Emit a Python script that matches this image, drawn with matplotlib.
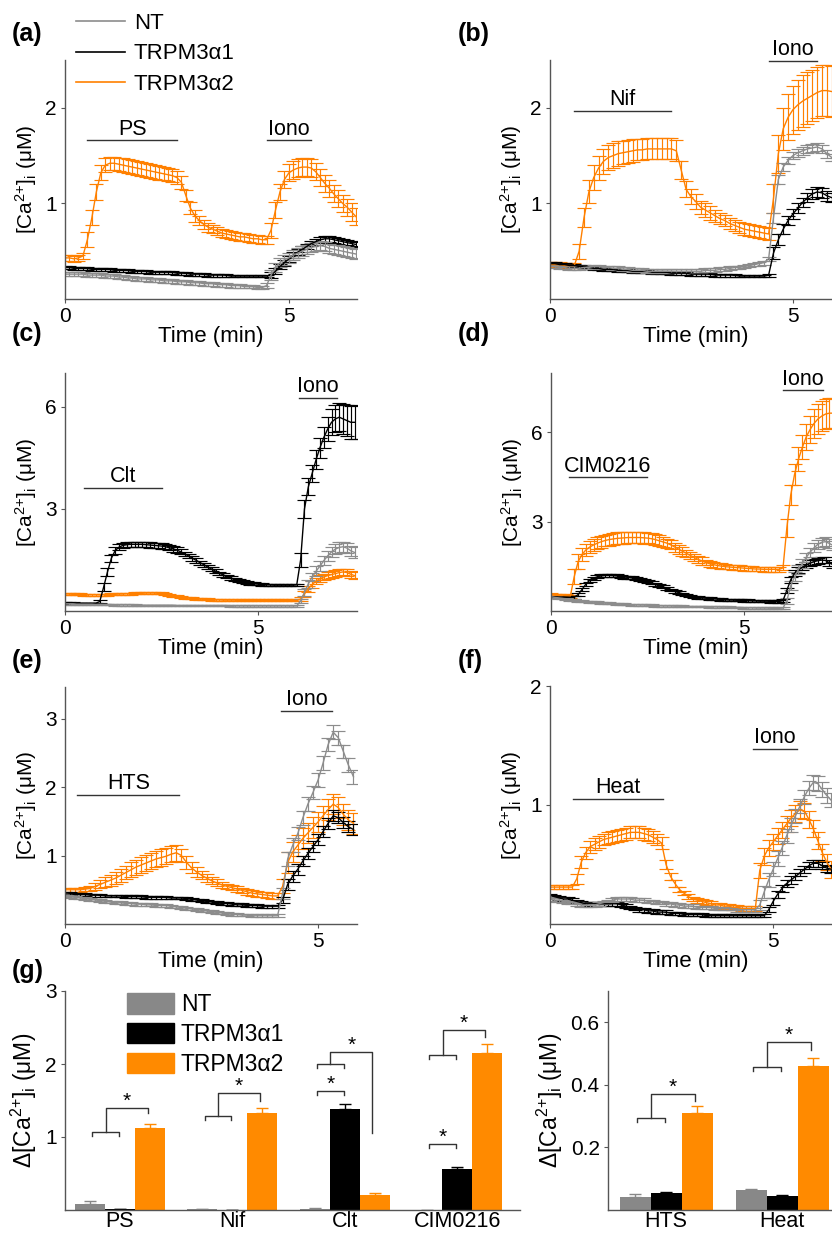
import numpy as np
import matplotlib
matplotlib.use("Agg")
import matplotlib.pyplot as plt
from matplotlib.lines import Line2D
from matplotlib.patches import Patch

# sampling interval of the traces (min)
DT = 0.1

# ---------------- (a) PS ----------------
A_NT = [0.26, 0.26, 0.26, 0.26, 0.26, 0.25, 0.25, 0.25, 0.25, 0.24,
        0.24, 0.24, 0.23, 0.23, 0.22, 0.22, 0.21, 0.21, 0.21, 0.20,
        0.20, 0.20, 0.19, 0.19, 0.19, 0.18, 0.18, 0.18, 0.17, 0.17,
        0.17, 0.16, 0.16, 0.16, 0.15, 0.15, 0.15, 0.14, 0.14, 0.14,
        0.13, 0.13, 0.13, 0.12, 0.12, 0.14, 0.25, 0.33, 0.38, 0.41,
        0.43, 0.46, 0.48, 0.50, 0.52, 0.54, 0.55, 0.56, 0.55, 0.53,
        0.52, 0.51, 0.50, 0.49, 0.48, 0.47]
A_NT_ERR = [0.02, 0.02, 0.02, 0.02, 0.02, 0.02, 0.02, 0.02, 0.02, 0.02,
            0.02, 0.02, 0.02, 0.02, 0.02, 0.02, 0.02, 0.02, 0.02, 0.02,
            0.02, 0.02, 0.02, 0.02, 0.02, 0.02, 0.02, 0.02, 0.02, 0.02,
            0.02, 0.02, 0.02, 0.02, 0.02, 0.02, 0.02, 0.02, 0.02, 0.02,
            0.02, 0.02, 0.02, 0.02, 0.02, 0.03, 0.05, 0.05, 0.05, 0.05,
            0.05, 0.05, 0.05, 0.05, 0.05, 0.05, 0.05, 0.05, 0.05, 0.05,
            0.05, 0.05, 0.05, 0.05, 0.05, 0.05]
A_A1 = [0.33, 0.33, 0.32, 0.32, 0.32, 0.32, 0.31, 0.31, 0.31, 0.31,
        0.31, 0.30, 0.30, 0.30, 0.30, 0.29, 0.29, 0.29, 0.29, 0.28,
        0.28, 0.28, 0.28, 0.28, 0.28, 0.27, 0.27, 0.27, 0.26, 0.26,
        0.26, 0.26, 0.25, 0.25, 0.25, 0.25, 0.25, 0.24, 0.24, 0.24,
        0.24, 0.24, 0.24, 0.24, 0.24, 0.24, 0.25, 0.29, 0.34, 0.38,
        0.42, 0.46, 0.49, 0.52, 0.55, 0.58, 0.60, 0.62, 0.63, 0.63,
        0.62, 0.61, 0.60, 0.59, 0.58, 0.57]
A_A1_ERR = [0.015, 0.015, 0.015, 0.015, 0.015, 0.015, 0.015, 0.015, 0.015, 0.015,
            0.015, 0.015, 0.015, 0.015, 0.015, 0.015, 0.015, 0.015, 0.015, 0.015,
            0.015, 0.015, 0.015, 0.015, 0.015, 0.015, 0.015, 0.015, 0.015, 0.015,
            0.015, 0.015, 0.015, 0.015, 0.015, 0.015, 0.015, 0.015, 0.015, 0.015,
            0.015, 0.015, 0.015, 0.015, 0.015, 0.015, 0.03, 0.03, 0.03, 0.03,
            0.03, 0.03, 0.03, 0.03, 0.03, 0.03, 0.03, 0.03, 0.03, 0.03,
            0.03, 0.03, 0.03, 0.03, 0.03, 0.03]
A_A2 = [0.43, 0.43, 0.42, 0.43, 0.45, 0.62, 0.85, 1.12, 1.32, 1.40,
        1.42, 1.42, 1.41, 1.40, 1.39, 1.38, 1.37, 1.36, 1.35, 1.34,
        1.33, 1.32, 1.31, 1.30, 1.29, 1.27, 1.22, 1.08, 0.95, 0.87,
        0.82, 0.78, 0.75, 0.73, 0.71, 0.69, 0.68, 0.67, 0.66, 0.65,
        0.65, 0.64, 0.63, 0.63, 0.62, 0.62, 0.72, 0.93, 1.12, 1.25,
        1.32, 1.35, 1.37, 1.38, 1.38, 1.37, 1.33, 1.27, 1.21, 1.16,
        1.10, 1.05, 1.00, 0.96, 0.91, 0.86]
A_A2_ERR = [0.03, 0.03, 0.03, 0.03, 0.03, 0.08, 0.08, 0.08, 0.08, 0.07,
            0.07, 0.07, 0.07, 0.07, 0.07, 0.07, 0.07, 0.07, 0.07, 0.07,
            0.07, 0.07, 0.07, 0.07, 0.07, 0.07, 0.07, 0.06, 0.06, 0.06,
            0.05, 0.05, 0.05, 0.04, 0.04, 0.04, 0.04, 0.04, 0.04, 0.04,
            0.04, 0.04, 0.04, 0.04, 0.04, 0.04, 0.08, 0.08, 0.08, 0.09,
            0.09, 0.09, 0.09, 0.09, 0.09, 0.09, 0.09, 0.09, 0.09, 0.09,
            0.09, 0.09, 0.09, 0.09, 0.09, 0.09]
A_DRUGS = [("PS", 0.5, 2.5, 1.66), ("Iono", 4.5, 5.5, 1.66)]

# ---------------- (b) Nif ----------------
B_NT = [0.34, 0.34, 0.33, 0.33, 0.32, 0.32, 0.32, 0.33, 0.33, 0.34,
        0.34, 0.33, 0.33, 0.32, 0.32, 0.31, 0.31, 0.30, 0.30, 0.30,
        0.29, 0.29, 0.29, 0.29, 0.29, 0.29, 0.29, 0.29, 0.29, 0.29,
        0.29, 0.29, 0.30, 0.30, 0.30, 0.31, 0.31, 0.32, 0.33, 0.33,
        0.34, 0.35, 0.36, 0.37, 0.38, 0.42, 0.85, 1.25, 1.38, 1.45,
        1.50, 1.53, 1.55, 1.57, 1.58, 1.59, 1.57, 1.52, 1.48]
B_NT_ERR = [0.02, 0.02, 0.02, 0.02, 0.02, 0.02, 0.02, 0.02, 0.02, 0.02,
            0.02, 0.02, 0.02, 0.02, 0.02, 0.02, 0.02, 0.02, 0.02, 0.02,
            0.02, 0.02, 0.02, 0.02, 0.02, 0.02, 0.02, 0.02, 0.02, 0.02,
            0.02, 0.02, 0.02, 0.02, 0.02, 0.02, 0.02, 0.02, 0.02, 0.02,
            0.02, 0.02, 0.02, 0.02, 0.02, 0.02, 0.05, 0.05, 0.04, 0.04,
            0.04, 0.04, 0.04, 0.04, 0.04, 0.04, 0.04, 0.04, 0.04]
B_A1 = [0.37, 0.37, 0.36, 0.36, 0.35, 0.35, 0.34, 0.34, 0.33, 0.32,
        0.32, 0.31, 0.31, 0.31, 0.30, 0.30, 0.30, 0.29, 0.29, 0.29,
        0.29, 0.28, 0.28, 0.28, 0.28, 0.27, 0.27, 0.27, 0.27, 0.26,
        0.26, 0.26, 0.26, 0.26, 0.25, 0.25, 0.25, 0.25, 0.25, 0.24,
        0.24, 0.24, 0.24, 0.24, 0.24, 0.25, 0.48, 0.62, 0.73, 0.82,
        0.89, 0.95, 1.01, 1.06, 1.10, 1.12, 1.11, 1.08, 1.06]
B_A1_ERR = [0.015, 0.015, 0.015, 0.015, 0.015, 0.015, 0.015, 0.015, 0.015, 0.015,
            0.015, 0.015, 0.015, 0.015, 0.015, 0.015, 0.015, 0.015, 0.015, 0.015,
            0.015, 0.015, 0.015, 0.015, 0.015, 0.015, 0.015, 0.015, 0.015, 0.015,
            0.015, 0.015, 0.015, 0.015, 0.015, 0.015, 0.015, 0.015, 0.015, 0.015,
            0.015, 0.015, 0.015, 0.015, 0.015, 0.015, 0.06, 0.06, 0.05, 0.05,
            0.05, 0.05, 0.05, 0.05, 0.05, 0.05, 0.05, 0.05, 0.05]
B_A2 = [0.36, 0.36, 0.36, 0.35, 0.35, 0.35, 0.50, 0.85, 1.12, 1.27,
        1.37, 1.44, 1.48, 1.50, 1.52, 1.53, 1.54, 1.55, 1.56, 1.56,
        1.57, 1.57, 1.57, 1.57, 1.57, 1.57, 1.55, 1.35, 1.15, 1.07,
        1.02, 0.96, 0.93, 0.90, 0.87, 0.84, 0.82, 0.79, 0.77, 0.75,
        0.73, 0.72, 0.71, 0.70, 0.69, 0.68, 1.05, 1.52, 1.78, 1.90,
        1.98, 2.03, 2.07, 2.10, 2.13, 2.16, 2.18, 2.18, 2.17]
B_A2_ERR = [0.03, 0.03, 0.03, 0.03, 0.03, 0.03, 0.08, 0.10, 0.12, 0.13,
            0.13, 0.13, 0.13, 0.13, 0.13, 0.12, 0.12, 0.12, 0.11, 0.11,
            0.11, 0.11, 0.11, 0.11, 0.11, 0.11, 0.11, 0.09, 0.08, 0.08,
            0.08, 0.07, 0.07, 0.07, 0.06, 0.06, 0.06, 0.06, 0.06, 0.06,
            0.06, 0.06, 0.06, 0.06, 0.06, 0.06, 0.15, 0.20, 0.22, 0.24,
            0.25, 0.26, 0.27, 0.27, 0.27, 0.27, 0.27, 0.27, 0.27]
B_DRUGS = [("Nif", 0.5, 2.5, 1.97), ("Iono", 4.5, 5.5, 2.49)]

# ---------------- (c) Clt ----------------
C_NT = [0.21, 0.21, 0.21, 0.20, 0.20, 0.20, 0.20, 0.20, 0.19, 0.19,
        0.19, 0.19, 0.19, 0.18, 0.18, 0.18, 0.18, 0.18, 0.18, 0.17,
        0.17, 0.17, 0.17, 0.17, 0.17, 0.17, 0.17, 0.17, 0.17, 0.16,
        0.16, 0.16, 0.16, 0.16, 0.16, 0.16, 0.16, 0.16, 0.16, 0.16,
        0.16, 0.16, 0.16, 0.15, 0.15, 0.15, 0.15, 0.15, 0.15, 0.15,
        0.15, 0.15, 0.15, 0.15, 0.15, 0.15, 0.15, 0.15, 0.15, 0.15,
        0.15, 0.30, 0.55, 0.80, 1.00, 1.17, 1.32, 1.48, 1.62, 1.74,
        1.82, 1.87, 1.89, 1.85, 1.77, 1.72]
C_NT_ERR = [0.02, 0.02, 0.02, 0.02, 0.02, 0.02, 0.02, 0.02, 0.02, 0.02,
            0.02, 0.02, 0.02, 0.02, 0.02, 0.02, 0.02, 0.02, 0.02, 0.02,
            0.02, 0.02, 0.02, 0.02, 0.02, 0.02, 0.02, 0.02, 0.02, 0.02,
            0.02, 0.02, 0.02, 0.02, 0.02, 0.02, 0.02, 0.02, 0.02, 0.02,
            0.02, 0.02, 0.02, 0.02, 0.02, 0.02, 0.02, 0.02, 0.02, 0.02,
            0.02, 0.02, 0.02, 0.02, 0.02, 0.02, 0.02, 0.02, 0.02, 0.02,
            0.02, 0.06, 0.10, 0.12, 0.13, 0.14, 0.14, 0.14, 0.14, 0.14,
            0.15, 0.15, 0.15, 0.15, 0.15, 0.15]
C_A1 = [0.24, 0.24, 0.24, 0.23, 0.23, 0.23, 0.23, 0.23, 0.23, 0.28,
        0.70, 1.15, 1.55, 1.78, 1.88, 1.93, 1.95, 1.96, 1.96, 1.96,
        1.96, 1.95, 1.94, 1.93, 1.92, 1.91, 1.89, 1.86, 1.83, 1.79,
        1.74, 1.68, 1.62, 1.55, 1.49, 1.42, 1.36, 1.29, 1.23, 1.17,
        1.11, 1.06, 1.01, 0.97, 0.93, 0.89, 0.86, 0.83, 0.81, 0.80,
        0.79, 0.78, 0.77, 0.77, 0.76, 0.76, 0.76, 0.76, 0.76, 0.76,
        0.77, 1.50, 3.00, 3.65, 4.05, 4.45, 4.80, 5.10, 5.35, 5.55,
        5.65, 5.70, 5.65, 5.60, 5.55, 5.55]
C_A1_ERR = [0.02, 0.02, 0.02, 0.02, 0.02, 0.02, 0.02, 0.02, 0.02, 0.05,
            0.12, 0.12, 0.10, 0.09, 0.08, 0.08, 0.08, 0.08, 0.08, 0.08,
            0.08, 0.08, 0.08, 0.08, 0.08, 0.08, 0.08, 0.08, 0.08, 0.08,
            0.07, 0.07, 0.07, 0.07, 0.07, 0.06, 0.06, 0.06, 0.06, 0.06,
            0.05, 0.05, 0.05, 0.05, 0.05, 0.04, 0.04, 0.04, 0.04, 0.04,
            0.03, 0.03, 0.03, 0.03, 0.03, 0.03, 0.03, 0.03, 0.03, 0.03,
            0.03, 0.20, 0.25, 0.25, 0.25, 0.28, 0.30, 0.32, 0.35, 0.38,
            0.40, 0.42, 0.45, 0.45, 0.48, 0.50]
C_A2 = [0.50, 0.50, 0.49, 0.49, 0.49, 0.48, 0.48, 0.48, 0.48, 0.48,
        0.48, 0.48, 0.49, 0.49, 0.50, 0.50, 0.51, 0.51, 0.52, 0.52,
        0.52, 0.53, 0.53, 0.53, 0.52, 0.52, 0.50, 0.48, 0.45, 0.43,
        0.41, 0.39, 0.38, 0.37, 0.36, 0.35, 0.34, 0.34, 0.33, 0.33,
        0.33, 0.32, 0.32, 0.32, 0.32, 0.31, 0.31, 0.31, 0.31, 0.31,
        0.31, 0.31, 0.31, 0.31, 0.31, 0.31, 0.31, 0.31, 0.31, 0.31,
        0.31, 0.35, 0.50, 0.66, 0.78, 0.88, 0.95, 1.00, 1.04, 1.07,
        1.10, 1.13, 1.15, 1.13, 1.08, 1.04]
C_A2_ERR = [0.03, 0.03, 0.03, 0.03, 0.03, 0.03, 0.03, 0.03, 0.03, 0.03,
            0.03, 0.03, 0.03, 0.03, 0.03, 0.03, 0.03, 0.03, 0.03, 0.03,
            0.03, 0.03, 0.03, 0.03, 0.03, 0.03, 0.03, 0.03, 0.03, 0.03,
            0.03, 0.03, 0.03, 0.03, 0.03, 0.03, 0.03, 0.03, 0.03, 0.03,
            0.03, 0.03, 0.03, 0.03, 0.03, 0.03, 0.03, 0.03, 0.03, 0.03,
            0.03, 0.03, 0.03, 0.03, 0.03, 0.03, 0.03, 0.03, 0.03, 0.03,
            0.03, 0.05, 0.08, 0.09, 0.10, 0.10, 0.10, 0.10, 0.10, 0.10,
            0.10, 0.10, 0.10, 0.10, 0.10, 0.10]
C_DRUGS = [("Clt", 0.5, 2.5, 3.63), ("Iono", 6.05, 7.05, 6.26)]

# ---------------- (d) CIM0216 ----------------
D_NT = [0.48, 0.46, 0.44, 0.42, 0.40, 0.38, 0.36, 0.34, 0.33, 0.32,
        0.31, 0.30, 0.29, 0.28, 0.27, 0.26, 0.25, 0.24, 0.23, 0.23,
        0.22, 0.21, 0.21, 0.20, 0.20, 0.19, 0.19, 0.18, 0.18, 0.17,
        0.17, 0.17, 0.16, 0.16, 0.16, 0.15, 0.15, 0.15, 0.15, 0.15,
        0.15, 0.14, 0.14, 0.14, 0.13, 0.13, 0.13, 0.12, 0.12, 0.12,
        0.11, 0.11, 0.11, 0.10, 0.10, 0.10, 0.10, 0.09, 0.09, 0.09,
        0.10, 0.35, 0.85, 1.15, 1.40, 1.60, 1.80, 1.98, 2.12, 2.24,
        2.31, 2.33, 2.27, 2.20]
D_NT_ERR = [0.03, 0.03, 0.03, 0.03, 0.03, 0.03, 0.03, 0.03, 0.03, 0.03,
            0.03, 0.03, 0.03, 0.03, 0.03, 0.03, 0.03, 0.03, 0.03, 0.03,
            0.03, 0.03, 0.03, 0.03, 0.03, 0.03, 0.03, 0.03, 0.03, 0.03,
            0.03, 0.03, 0.03, 0.03, 0.03, 0.03, 0.03, 0.03, 0.03, 0.03,
            0.03, 0.03, 0.03, 0.03, 0.03, 0.03, 0.03, 0.03, 0.03, 0.03,
            0.03, 0.03, 0.03, 0.03, 0.03, 0.03, 0.03, 0.03, 0.03, 0.03,
            0.03, 0.10, 0.15, 0.15, 0.15, 0.15, 0.15, 0.15, 0.15, 0.15,
            0.15, 0.15, 0.15, 0.15]
D_A1 = [0.48, 0.48, 0.47, 0.47, 0.46, 0.46, 0.46, 0.55, 0.72, 0.90,
        1.03, 1.10, 1.15, 1.18, 1.20, 1.20, 1.19, 1.18, 1.16, 1.14,
        1.13, 1.11, 1.08, 1.05, 1.02, 0.99, 0.95, 0.90, 0.86, 0.81,
        0.76, 0.71, 0.66, 0.62, 0.58, 0.54, 0.51, 0.48, 0.46, 0.44,
        0.43, 0.42, 0.41, 0.40, 0.39, 0.38, 0.37, 0.37, 0.36, 0.36,
        0.35, 0.35, 0.34, 0.34, 0.33, 0.33, 0.33, 0.32, 0.32, 0.32,
        0.35, 0.70, 1.05, 1.27, 1.38, 1.47, 1.55, 1.61, 1.66, 1.69,
        1.71, 1.70, 1.62, 1.55]
D_A1_ERR = [0.04, 0.04, 0.04, 0.04, 0.04, 0.04, 0.04, 0.04, 0.05, 0.05,
            0.05, 0.05, 0.05, 0.05, 0.05, 0.05, 0.05, 0.05, 0.05, 0.05,
            0.05, 0.05, 0.05, 0.05, 0.05, 0.05, 0.05, 0.05, 0.05, 0.05,
            0.05, 0.04, 0.04, 0.04, 0.04, 0.04, 0.04, 0.04, 0.04, 0.04,
            0.04, 0.04, 0.04, 0.04, 0.04, 0.04, 0.04, 0.04, 0.04, 0.04,
            0.04, 0.04, 0.04, 0.04, 0.04, 0.04, 0.04, 0.04, 0.04, 0.04,
            0.04, 0.08, 0.10, 0.10, 0.10, 0.10, 0.10, 0.10, 0.10, 0.10,
            0.10, 0.10, 0.10, 0.10]
D_A2 = [0.54, 0.53, 0.52, 0.51, 0.51, 0.50, 1.15, 1.65, 1.90, 2.05,
        2.15, 2.22, 2.28, 2.33, 2.37, 2.40, 2.42, 2.44, 2.45, 2.46,
        2.47, 2.47, 2.47, 2.47, 2.46, 2.45, 2.43, 2.40, 2.36, 2.32,
        2.28, 2.22, 2.15, 2.08, 2.01, 1.94, 1.87, 1.80, 1.74, 1.68,
        1.63, 1.59, 1.56, 1.53, 1.51, 1.49, 1.48, 1.47, 1.46, 1.45,
        1.44, 1.43, 1.42, 1.41, 1.41, 1.40, 1.40, 1.40, 1.40, 1.40,
        1.45, 2.80, 3.90, 4.60, 5.10, 5.50, 5.85, 6.10, 6.30, 6.45,
        6.55, 6.62, 6.65, 6.65]
D_A2_ERR = [0.05, 0.05, 0.05, 0.05, 0.05, 0.05, 0.25, 0.25, 0.22, 0.20,
            0.20, 0.20, 0.20, 0.20, 0.20, 0.20, 0.20, 0.20, 0.20, 0.20,
            0.20, 0.20, 0.20, 0.20, 0.20, 0.18, 0.18, 0.18, 0.18, 0.18,
            0.15, 0.15, 0.15, 0.15, 0.15, 0.12, 0.12, 0.12, 0.12, 0.12,
            0.10, 0.10, 0.10, 0.10, 0.10, 0.08, 0.08, 0.08, 0.08, 0.08,
            0.08, 0.08, 0.08, 0.08, 0.08, 0.08, 0.08, 0.08, 0.08, 0.08,
            0.08, 0.30, 0.35, 0.35, 0.40, 0.40, 0.45, 0.45, 0.50, 0.50,
            0.50, 0.50, 0.50, 0.50]
D_DRUGS = [("CIM0216", 0.47, 2.48, 4.49), ("Iono", 6.0, 7.04, 7.42)]

# ---------------- (e) HTS ----------------
E_NT = [0.41, 0.40, 0.39, 0.38, 0.37, 0.36, 0.35, 0.34, 0.33, 0.32,
        0.31, 0.31, 0.30, 0.30, 0.29, 0.29, 0.28, 0.28, 0.27, 0.27,
        0.27, 0.26, 0.25, 0.24, 0.23, 0.22, 0.21, 0.20, 0.19, 0.18,
        0.17, 0.16, 0.15, 0.14, 0.14, 0.13, 0.13, 0.12, 0.12, 0.12,
        0.12, 0.12, 0.12, 0.45, 0.95, 1.15, 1.32, 1.55, 1.75, 1.92,
        2.10, 2.35, 2.62, 2.80, 2.72, 2.52, 2.32, 2.15]
E_NT_ERR = [0.02, 0.02, 0.02, 0.02, 0.02, 0.02, 0.02, 0.02, 0.02, 0.02,
            0.02, 0.02, 0.02, 0.02, 0.02, 0.02, 0.02, 0.02, 0.02, 0.02,
            0.02, 0.02, 0.02, 0.02, 0.02, 0.02, 0.02, 0.02, 0.02, 0.02,
            0.02, 0.02, 0.02, 0.02, 0.02, 0.02, 0.02, 0.02, 0.02, 0.02,
            0.02, 0.02, 0.02, 0.08, 0.10, 0.10, 0.10, 0.10, 0.10, 0.10,
            0.10, 0.10, 0.10, 0.10, 0.10, 0.10, 0.10, 0.10]
E_A1 = [0.44, 0.44, 0.43, 0.43, 0.43, 0.42, 0.42, 0.42, 0.41, 0.41,
        0.41, 0.41, 0.40, 0.40, 0.40, 0.40, 0.39, 0.39, 0.39, 0.39,
        0.39, 0.38, 0.38, 0.38, 0.37, 0.36, 0.35, 0.34, 0.33, 0.32,
        0.31, 0.30, 0.30, 0.29, 0.28, 0.28, 0.27, 0.27, 0.27, 0.26,
        0.26, 0.26, 0.26, 0.35, 0.58, 0.70, 0.80, 0.92, 1.03, 1.13,
        1.23, 1.35, 1.47, 1.58, 1.55, 1.48, 1.42, 1.38]
E_A1_ERR = [0.02, 0.02, 0.02, 0.02, 0.02, 0.02, 0.02, 0.02, 0.02, 0.02,
            0.02, 0.02, 0.02, 0.02, 0.02, 0.02, 0.02, 0.02, 0.02, 0.02,
            0.02, 0.02, 0.02, 0.02, 0.02, 0.02, 0.02, 0.02, 0.02, 0.02,
            0.02, 0.02, 0.02, 0.02, 0.02, 0.02, 0.02, 0.02, 0.02, 0.02,
            0.02, 0.02, 0.02, 0.05, 0.08, 0.08, 0.08, 0.08, 0.08, 0.08,
            0.08, 0.08, 0.08, 0.08, 0.08, 0.08, 0.08, 0.08]
E_A2 = [0.50, 0.50, 0.50, 0.50, 0.51, 0.52, 0.55, 0.58, 0.61, 0.64,
        0.67, 0.71, 0.75, 0.79, 0.83, 0.86, 0.89, 0.92, 0.95, 0.97,
        0.99, 1.02, 1.04, 1.00, 0.90, 0.82, 0.76, 0.71, 0.67, 0.63,
        0.60, 0.57, 0.55, 0.53, 0.51, 0.49, 0.47, 0.45, 0.44, 0.43,
        0.42, 0.41, 0.41, 0.55, 0.90, 1.05, 1.15, 1.25, 1.33, 1.41,
        1.49, 1.58, 1.67, 1.75, 1.70, 1.60, 1.52, 1.47]
E_A2_ERR = [0.03, 0.03, 0.03, 0.03, 0.03, 0.04, 0.05, 0.06, 0.07, 0.08,
            0.09, 0.10, 0.10, 0.11, 0.11, 0.12, 0.12, 0.12, 0.12, 0.12,
            0.12, 0.12, 0.12, 0.10, 0.09, 0.08, 0.07, 0.06, 0.06, 0.05,
            0.05, 0.05, 0.04, 0.04, 0.04, 0.04, 0.04, 0.04, 0.04, 0.04,
            0.04, 0.04, 0.04, 0.10, 0.15, 0.15, 0.15, 0.15, 0.15, 0.15,
            0.15, 0.15, 0.15, 0.15, 0.15, 0.15, 0.15, 0.15]
E_DRUGS = [("HTS", 0.24, 2.26, 1.89), ("Iono", 4.27, 5.27, 3.11)]

# ---------------- (f) Heat ----------------
F_NT = [0.21, 0.20, 0.20, 0.19, 0.18, 0.18, 0.17, 0.16, 0.16, 0.16,
        0.16, 0.17, 0.18, 0.19, 0.20, 0.21, 0.21, 0.21, 0.21, 0.20,
        0.20, 0.20, 0.19, 0.19, 0.18, 0.18, 0.17, 0.17, 0.16, 0.16,
        0.15, 0.15, 0.15, 0.14, 0.14, 0.14, 0.14, 0.13, 0.13, 0.13,
        0.13, 0.13, 0.12, 0.12, 0.12, 0.12, 0.12, 0.16, 0.27, 0.37,
        0.46, 0.55, 0.64, 0.74, 0.83, 0.91, 0.99, 1.07, 1.14, 1.19,
        1.18, 1.13, 1.08, 1.04]
F_NT_ERR = [0.015, 0.015, 0.015, 0.015, 0.015, 0.015, 0.015, 0.015, 0.015, 0.015,
            0.015, 0.015, 0.015, 0.015, 0.015, 0.015, 0.015, 0.015, 0.015, 0.015,
            0.015, 0.015, 0.015, 0.015, 0.015, 0.015, 0.015, 0.015, 0.015, 0.015,
            0.015, 0.015, 0.015, 0.015, 0.015, 0.015, 0.015, 0.015, 0.015, 0.015,
            0.015, 0.015, 0.015, 0.015, 0.015, 0.015, 0.015, 0.04, 0.05, 0.06,
            0.06, 0.06, 0.06, 0.06, 0.06, 0.06, 0.06, 0.06, 0.06, 0.06,
            0.06, 0.06, 0.06, 0.06]
F_A1 = [0.24, 0.23, 0.22, 0.21, 0.21, 0.20, 0.19, 0.18, 0.17, 0.17,
        0.17, 0.17, 0.17, 0.17, 0.17, 0.17, 0.16, 0.15, 0.14, 0.13,
        0.12, 0.12, 0.11, 0.11, 0.10, 0.10, 0.10, 0.09, 0.09, 0.09,
        0.08, 0.08, 0.08, 0.08, 0.08, 0.07, 0.07, 0.07, 0.07, 0.07,
        0.07, 0.07, 0.07, 0.07, 0.07, 0.07, 0.07, 0.07, 0.07, 0.12,
        0.19, 0.25, 0.30, 0.34, 0.37, 0.40, 0.43, 0.46, 0.49, 0.51,
        0.51, 0.49, 0.47, 0.46]
F_A1_ERR = [0.015, 0.015, 0.015, 0.015, 0.015, 0.015, 0.015, 0.015, 0.015, 0.015,
            0.015, 0.015, 0.015, 0.015, 0.015, 0.015, 0.015, 0.015, 0.015, 0.015,
            0.015, 0.015, 0.015, 0.015, 0.015, 0.015, 0.015, 0.015, 0.015, 0.015,
            0.015, 0.015, 0.015, 0.015, 0.015, 0.015, 0.015, 0.015, 0.015, 0.015,
            0.015, 0.015, 0.015, 0.015, 0.015, 0.015, 0.015, 0.015, 0.015, 0.02,
            0.03, 0.03, 0.03, 0.03, 0.03, 0.03, 0.03, 0.03, 0.03, 0.03,
            0.03, 0.03, 0.03, 0.03]
F_A2 = [0.31, 0.31, 0.31, 0.31, 0.31, 0.31, 0.38, 0.52, 0.60, 0.65,
        0.67, 0.69, 0.71, 0.72, 0.73, 0.74, 0.75, 0.76, 0.77, 0.77,
        0.77, 0.76, 0.75, 0.73, 0.71, 0.68, 0.50, 0.40, 0.34, 0.29,
        0.26, 0.23, 0.21, 0.20, 0.19, 0.18, 0.17, 0.16, 0.16, 0.15,
        0.15, 0.14, 0.14, 0.13, 0.13, 0.13, 0.13, 0.45, 0.57, 0.64,
        0.69, 0.74, 0.79, 0.84, 0.89, 0.93, 0.96, 0.95, 0.88, 0.80,
        0.70, 0.60, 0.52, 0.46]
F_A2_ERR = [0.02, 0.02, 0.02, 0.02, 0.02, 0.02, 0.04, 0.05, 0.05, 0.05,
            0.05, 0.05, 0.05, 0.05, 0.05, 0.05, 0.05, 0.05, 0.05, 0.05,
            0.05, 0.05, 0.05, 0.05, 0.05, 0.05, 0.04, 0.03, 0.03, 0.02,
            0.02, 0.02, 0.02, 0.02, 0.02, 0.02, 0.02, 0.02, 0.02, 0.02,
            0.02, 0.02, 0.02, 0.02, 0.02, 0.02, 0.02, 0.06, 0.07, 0.07,
            0.07, 0.07, 0.07, 0.07, 0.07, 0.07, 0.07, 0.07, 0.07, 0.07,
            0.07, 0.07, 0.07, 0.07]
F_DRUGS = [("Heat", 0.51, 2.53, 1.05), ("Iono", 4.54, 5.53, 1.47)]

# ---------------- (g) summary bars ----------------
GROUPS_L = ["PS", "Nif", "Clt", "CIM0216"]
BAR_NT_L = [0.085, 0.01, 0.015, 0.0]
BAR_A1_L = [0.01, 0.005, 1.38, 0.565]
BAR_A2_L = [1.13, 1.33, 0.205, 2.155]
ERR_NT_L = [0.035, 0.005, 0.01, 0.0]
ERR_A1_L = [0.0, 0.0, 0.07, 0.025]
ERR_A2_L = [0.05, 0.07, 0.025, 0.115]
# (group index, kind, lower y, upper y, end of right leg)
SIG_L = [(0, "nested", 1.07, 1.40, 1.33),
         (1, "nested", 1.29, 1.60, 1.50),
         (2, "pair", 1.63, None, None),
         (2, "nested", 2.00, 2.16, 1.05),
         (3, "pair", 0.91, None, None),
         (3, "nested", 2.13, 2.47, 2.37)]

GROUPS_R = ["HTS", "Heat"]
BAR_NT_R = [0.04, 0.063]
BAR_A1_R = [0.054, 0.045]
BAR_A2_R = [0.31, 0.461]
ERR_NT_R = [0.011, 0.005]
ERR_A1_R = [0.004, 0.003]
ERR_A2_R = [0.022, 0.026]
SIG_R = [(0, "nested", 0.294, 0.37, 0.35),
         (1, "nested", 0.458, 0.536, 0.513)]

LABELS = ["NT", "TRPM3\u03b11", "TRPM3\u03b12"]

GRAY = "#8c8c8c"
BLACK = "#000000"
ORANGE = "#ff8000"
BAR_GRAY = "#888888"
BAR_ORANGE = "#ff8a00"
AXIS_COL = "#555555"

W, H = 832, 1238

plt.rcParams.update({
    "font.family": ["Liberation Sans", "DejaVu Sans"],
    "mathtext.fontset": "custom",
    "mathtext.rm": "Liberation Sans",
    "mathtext.it": "Liberation Sans:italic",
    "mathtext.bf": "Liberation Sans:bold",
})

CA_LABEL = "[Ca$^{2{+}}$]$_{\\mathrm{i}}$ (\u03bcM)"


def add_axes_px(fig, x0, y0, x1, y1):
    """Add axes using pixel box (left, top, right, bottom) of the 832x1238 canvas."""
    return fig.add_axes([x0 / W, 1 - y1 / H, (x1 - x0) / W, (y1 - y0) / H])


def style_axes(ax, tick_size):
    for side in ["top", "right"]:
        ax.spines[side].set_visible(False)
    for side in ["left", "bottom"]:
        ax.spines[side].set_color(AXIS_COL)
        ax.spines[side].set_linewidth(1.0)
    ax.tick_params(direction="out", length=3, width=0.8, color=AXIS_COL,
                   labelsize=tick_size, pad=3)


def plot_trace(ax, series, xmax, ymax, yticks, drugs):
    """Mean +/- SEM time courses with drug application bars."""
    for vals, errs, col in series:
        t = np.arange(len(vals)) * DT
        ax.errorbar(t, vals, yerr=errs, color=col, lw=1.0, elinewidth=0.85,
                    capsize=4.8, capthick=0.85)
    for name, t0, t1, y in drugs:
        ax.plot([t0, t1], [y, y], color="#333333", lw=1.0, clip_on=False)
        ax.annotate(name, ((t0 + t1) / 2, y), xytext=(0, 0.5),
                    textcoords="offset points", ha="center", va="bottom",
                    fontsize=15.5, annotation_clip=False)
    ax.set_xlim(0, xmax)
    ax.set_ylim(0, ymax)
    ax.set_xticks([0, 5])
    ax.set_yticks(yticks)
    style_axes(ax, 15)
    ax.set_xlabel("Time (min)", fontsize=16, labelpad=0)
    ax.set_ylabel(CA_LABEL, fontsize=15, labelpad=4)


def draw_sig(ax, center, w, kind, y_low, y_high, y_end, leg, star_size):
    """Significance brackets; lower bracket spans NT and a1, upper reaches a2."""
    x1, x2 = center - w + 0.02, center - 0.01
    col = "#333333"
    ax.plot([x1, x1, x2, x2], [y_low - leg, y_low, y_low, y_low - leg], color=col, lw=1.0)
    if kind == "pair":
        ax.annotate("*", ((x1 + x2) / 2, y_low), xytext=(0, -2), textcoords="offset points",
                    ha="center", va="bottom", fontsize=star_size)
        return
    xm = (x1 + x2) / 2
    xr = center + w - 0.02
    ax.plot([xm, xm, xr, xr], [y_low, y_high, y_high, y_end], color=col, lw=1.0)
    ax.annotate("*", ((xm + xr) / 2, y_high), xytext=(0, -2), textcoords="offset points",
                ha="center", va="bottom", fontsize=star_size)


def plot_bars(ax, groups, nt, a1, a2, e_nt, e_a1, e_a2, sig, xlim, ylim, yticks, leg):
    w = 0.267
    x = np.arange(len(groups))
    for off, vals, errs, col in [(-w, nt, e_nt, BAR_GRAY), (0, a1, e_a1, BLACK),
                                 (w, a2, e_a2, BAR_ORANGE)]:
        ax.bar(x + off, vals, width=w, color=col, edgecolor="none")
        ax.errorbar(x + off, vals, yerr=[np.zeros(len(errs)), errs], fmt="none",
                    ecolor=col, elinewidth=1.0, capsize=4.5, capthick=1.0)
    for g, kind, y_low, y_high, y_end in sig:
        draw_sig(ax, x[g], w, kind, y_low, y_high, y_end, leg, 15)
    ax.set_xlim(*xlim)
    ax.set_ylim(*ylim)
    ax.set_yticks(yticks)
    ax.set_xticks(x)
    ax.set_xticklabels(groups)
    style_axes(ax, 15)
    ax.tick_params(axis="x", length=0, labelsize=15.5, pad=1)
    ax.set_ylabel("$\\Delta$" + CA_LABEL, fontsize=16.5, labelpad=4)


def main():
    fig = plt.figure(figsize=(W / 100, H / 100), dpi=100)

    panels = [
        ("(a)", (65, 60, 357, 299), (12, 34), 6.52, 2.5, [1, 2],
         [(A_A2, A_A2_ERR, ORANGE), (A_A1, A_A1_ERR, BLACK), (A_NT, A_NT_ERR, GRAY)], A_DRUGS),
        ("(b)", (550, 60, 841, 299), (458, 34), 5.99, 2.5, [1, 2],
         [(B_A2, B_A2_ERR, ORANGE), (B_A1, B_A1_ERR, BLACK), (B_NT, B_NT_ERR, GRAY)], B_DRUGS),
        ("(c)", (65, 373, 357, 611), (12, 334), 7.56, 7.0, [3, 6],
         [(C_A2, C_A2_ERR, ORANGE), (C_A1, C_A1_ERR, BLACK), (C_NT, C_NT_ERR, GRAY)], C_DRUGS),
        ("(d)", (551, 373, 841, 611), (458, 334), 7.5, 8.0, [3, 6],
         [(D_A2, D_A2_ERR, ORANGE), (D_A1, D_A1_ERR, BLACK), (D_NT, D_NT_ERR, GRAY)], D_DRUGS),
        ("(e)", (65, 687, 357, 924), (12, 661), 5.77, 3.46, [1, 2, 3],
         [(E_A2, E_A2_ERR, ORANGE), (E_A1, E_A1_ERR, BLACK), (E_NT, E_NT_ERR, GRAY)], E_DRUGS),
        ("(f)", (550, 686, 841, 924), (458, 661), 6.52, 2.0, [1, 2],
         [(F_A2, F_A2_ERR, ORANGE), (F_A1, F_A1_ERR, BLACK), (F_NT, F_NT_ERR, GRAY)], F_DRUGS),
    ]
    for tag, box, lab_xy, xmax, ymax, yticks, series, drugs in panels:
        ax = add_axes_px(fig, *box)
        plot_trace(ax, series, xmax, ymax, yticks, drugs)
        fig.text(lab_xy[0] / W, 1 - lab_xy[1] / H, tag, ha="left", va="center",
                 fontsize=18, fontweight="bold")

    # legend of the time courses, top left
    handles = [Line2D([], [], color=c, lw=1.2) for c in (GRAY, BLACK, ORANGE)]
    fig.legend(handles, LABELS, loc="upper left", bbox_to_anchor=(76 / W, 1 - 13 / H),
               frameon=False, fontsize=16, handlelength=2.2, handletextpad=0.4,
               labelspacing=0.42, borderpad=0, borderaxespad=0)

    # (g) summary bars
    ax_l = add_axes_px(fig, 65, 991, 520, 1210)
    plot_bars(ax_l, GROUPS_L, BAR_NT_L, BAR_A1_L, BAR_A2_L, ERR_NT_L, ERR_A1_L, ERR_A2_L,
              SIG_L, (-0.49, 3.56), (0, 3), [1, 2, 3], 0.055)
    ax_r = add_axes_px(fig, 608, 991, 832, 1210)
    plot_bars(ax_r, GROUPS_R, BAR_NT_R, BAR_A1_R, BAR_A2_R, ERR_NT_R, ERR_A1_R, ERR_A2_R,
              SIG_R, (-0.5, 1.43), (0, 0.7), [0.2, 0.4, 0.6], 0.014)
    fig.text(12 / W, 1 - 971 / H, "(g)", ha="left", va="center", fontsize=18, fontweight="bold")

    patches = [Patch(color=c) for c in (BAR_GRAY, BLACK, BAR_ORANGE)]
    fig.legend(patches, LABELS, loc="upper left", bbox_to_anchor=(127 / W, 1 - 993 / H),
               frameon=False, fontsize=16.5, handlelength=2.05, handleheight=1.0,
               handletextpad=0.3, labelspacing=0.3, borderpad=0, borderaxespad=0)

    fig.savefig("out.png", dpi=100)


if __name__ == "__main__":
    main()
